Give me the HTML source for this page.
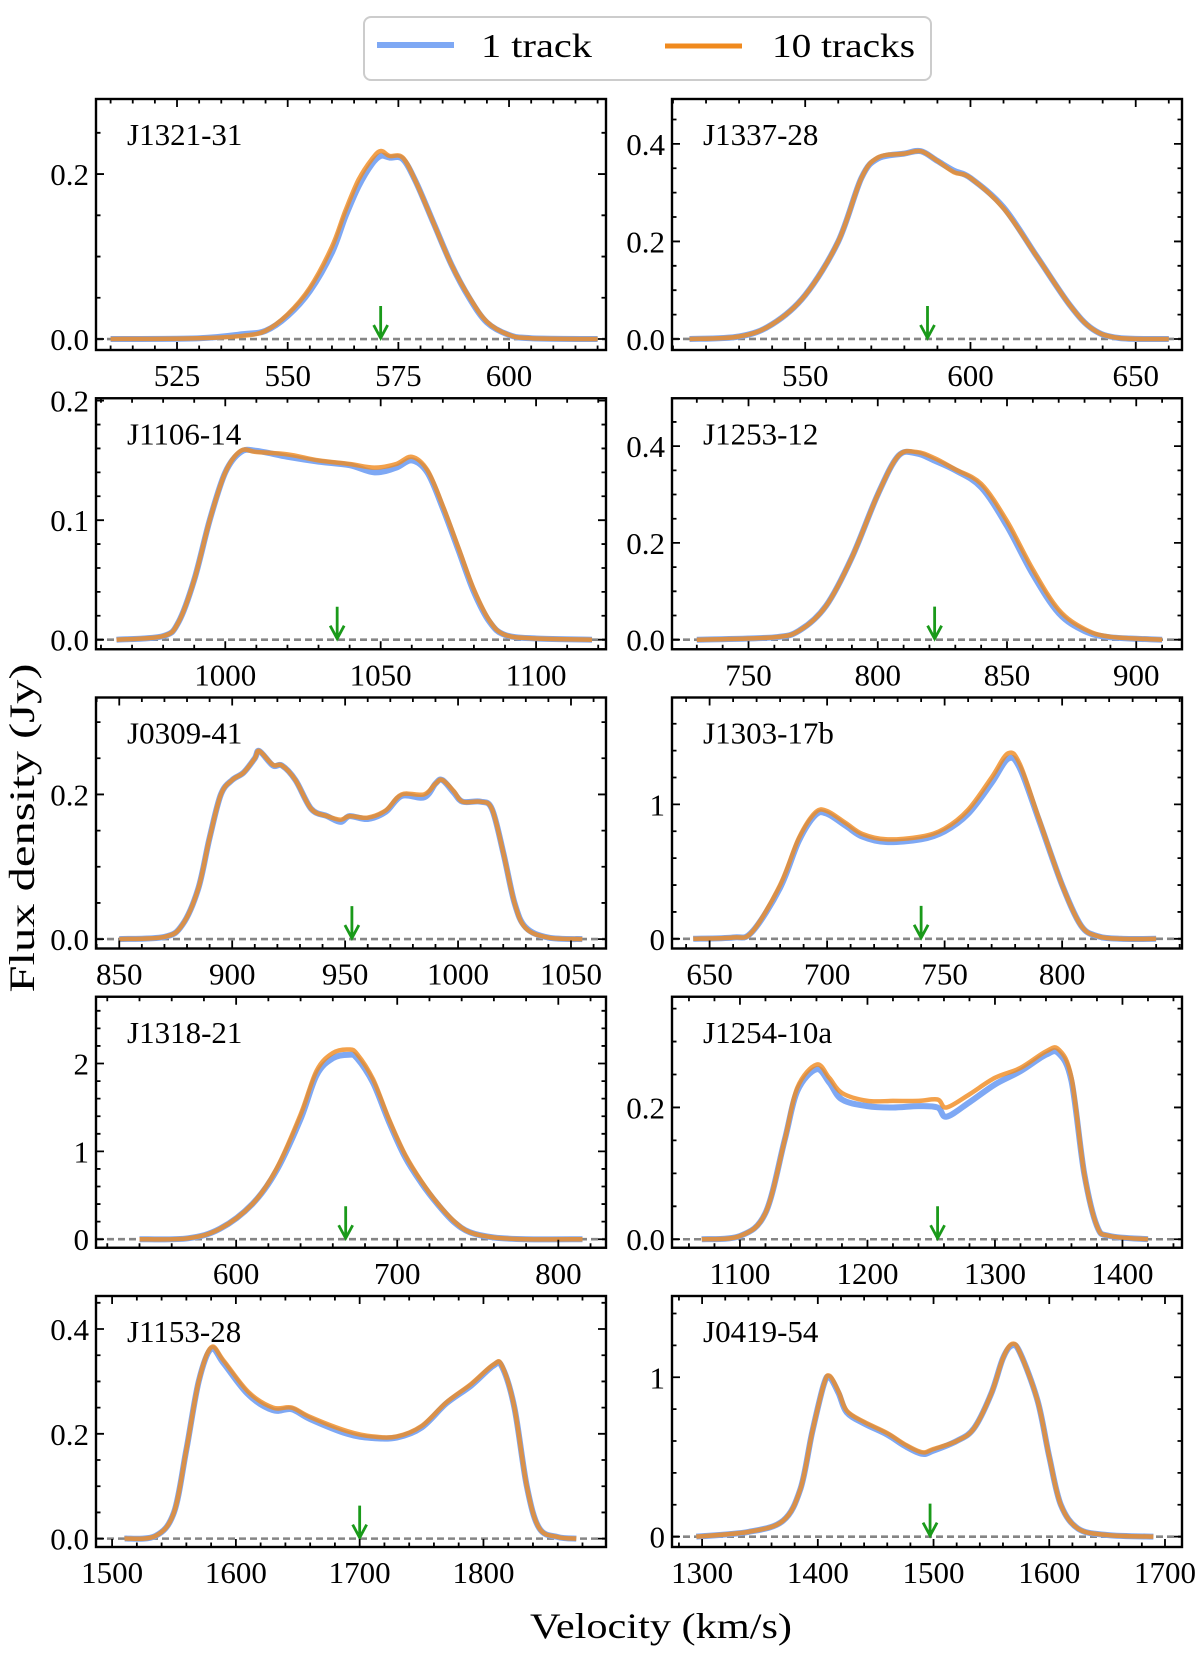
<!DOCTYPE html>
<html><head><meta charset="utf-8">
<style>
html,body{margin:0;padding:0;background:#fff;}
svg{display:block;}
text{font-family:"Liberation Serif",serif;fill:#000;}
</style></head>
<body>
<svg id="fig" width="1200" height="1656" viewBox="0 0 1200 1656" xmlns="http://www.w3.org/2000/svg">
  <g>
    <rect x="364" y="17" width="567" height="63" rx="7" fill="#fff" stroke="#cccccc" stroke-width="2"/>
    <line x1="377" y1="45" x2="454" y2="45" stroke="#7ea8f4" stroke-width="6"/>
    <text x="481" y="57" font-size="34" textLength="111" lengthAdjust="spacingAndGlyphs">1 track</text>
    <line x1="665" y1="46" x2="742" y2="46" stroke="#f08a1e" stroke-width="5"/>
    <text x="772" y="57" font-size="34" textLength="143" lengthAdjust="spacingAndGlyphs">10 tracks</text>
  </g>
  <text transform="translate(34,828) rotate(-90)" text-anchor="middle" font-size="36" textLength="329" lengthAdjust="spacingAndGlyphs">Flux density (Jy)</text>
  <text x="661" y="1638" text-anchor="middle" font-size="36" textLength="262" lengthAdjust="spacingAndGlyphs">Velocity (km/s)</text>
  <g id="panels"></g>
</svg>
<script>
// ---- Data (velocity km/s, flux Jy) ----
const v_J1321 = [510,530,540,545,550,555,560,563,566,569,571,573,576,579,583,587,591,595,600,605,620];
const f1_J1321 = [0,0.001,0.006,0.01,0.028,0.058,0.105,0.148,0.185,0.212,0.222,0.22,0.218,0.19,0.14,0.09,0.05,0.02,0.005,0.001,0];
const f10_J1321 = [0,0.001,0.004,0.01,0.03,0.062,0.112,0.155,0.193,0.218,0.228,0.222,0.22,0.19,0.14,0.09,0.051,0.021,0.005,0.001,0];
const a_J1321 = 571;

const v_J1337 = [515,530,540,550,560,567,572,580,585,590,595,600,610,620,630,637,645,660];
const f1_J1337 = [0,0.005,0.03,0.09,0.2,0.33,0.37,0.38,0.385,0.365,0.345,0.33,0.27,0.17,0.07,0.02,0.002,0];
const f10_J1337 = [0,0.005,0.03,0.09,0.2,0.33,0.372,0.38,0.385,0.365,0.342,0.33,0.268,0.17,0.07,0.02,0.002,0];
const a_J1337 = 587;

const v_J1106 = [965,980,985,990,995,1000,1005,1010,1020,1030,1040,1048,1055,1060,1065,1070,1075,1080,1085,1090,1100,1118];
const f1_J1106 = [0,0.003,0.015,0.05,0.1,0.14,0.157,0.158,0.153,0.149,0.146,0.14,0.144,0.15,0.14,0.11,0.075,0.04,0.015,0.004,0.001,0];
const f10_J1106 = [0,0.003,0.015,0.05,0.1,0.14,0.158,0.157,0.155,0.15,0.147,0.144,0.147,0.153,0.142,0.112,0.077,0.042,0.016,0.004,0.001,0];
const a_J1106 = 1036;

const v_J1253 = [730,760,770,780,790,800,808,815,822,830,840,850,860,870,880,890,910];
const f1_J1253 = [0,0.005,0.02,0.07,0.17,0.3,0.38,0.385,0.37,0.35,0.315,0.235,0.135,0.055,0.018,0.005,0];
const f10_J1253 = [0,0.005,0.02,0.07,0.17,0.3,0.38,0.388,0.375,0.352,0.322,0.245,0.145,0.062,0.022,0.006,0];
const a_J1253 = 822;

const v_J0309 = [850,870,878,885,890,895,900,905,910,912,918,922,928,935,942,948,952,960,968,975,985,990,993,998,1002,1010,1015,1020,1025,1030,1040,1055];
const f1_J0309 = [0,0.003,0.02,0.07,0.14,0.2,0.22,0.23,0.25,0.26,0.24,0.24,0.22,0.18,0.17,0.162,0.17,0.166,0.176,0.198,0.196,0.215,0.22,0.203,0.19,0.19,0.18,0.12,0.05,0.016,0.002,0];
const f10_J0309 = [0,0.003,0.02,0.07,0.14,0.2,0.22,0.23,0.25,0.26,0.241,0.24,0.22,0.18,0.17,0.165,0.17,0.168,0.178,0.2,0.2,0.215,0.22,0.205,0.19,0.19,0.18,0.12,0.05,0.015,0.002,0];
const a_J0309 = 953;

const v_J1303 = [643,660,668,680,688,695,700,708,715,725,740,750,760,770,777,782,790,800,808,815,825,840];
const f1_J1303 = [0,0.01,0.05,0.38,0.73,0.92,0.93,0.84,0.76,0.72,0.74,0.8,0.93,1.16,1.34,1.27,0.89,0.4,0.1,0.02,0,0];
const f10_J1303 = [0,0.01,0.05,0.4,0.75,0.94,0.95,0.86,0.78,0.74,0.76,0.82,0.96,1.2,1.38,1.3,0.9,0.4,0.1,0.02,0,0];
const a_J1303 = 740;

const v_J1318 = [540,570,590,610,625,640,650,660,670,675,685,695,705,715,725,735,745,760,780,815];
const f1_J1318 = [0,0.01,0.12,0.4,0.78,1.37,1.87,2.06,2.1,2.06,1.78,1.33,0.93,0.64,0.4,0.2,0.08,0.02,0,0];
const f10_J1318 = [0,0.01,0.12,0.4,0.8,1.42,1.92,2.12,2.16,2.11,1.82,1.36,0.96,0.66,0.41,0.21,0.08,0.02,0,0];
const a_J1318 = 668;

const v_J1254 = [1070,1100,1120,1135,1145,1160,1170,1180,1200,1220,1240,1255,1262,1280,1300,1320,1340,1350,1360,1370,1380,1390,1420];
const f1_J1254 = [0,0.005,0.04,0.15,0.225,0.258,0.238,0.212,0.202,0.2,0.202,0.2,0.186,0.208,0.235,0.255,0.28,0.282,0.24,0.1,0.02,0.005,0];
const f10_J1254 = [0,0.005,0.04,0.15,0.23,0.265,0.245,0.222,0.21,0.21,0.21,0.212,0.2,0.22,0.245,0.26,0.285,0.288,0.245,0.1,0.02,0.005,0];
const a_J1254 = 1255;

const v_J1153 = [1510,1535,1550,1560,1570,1580,1590,1610,1630,1645,1660,1690,1710,1730,1750,1770,1790,1808,1815,1825,1835,1845,1860,1875];
const f1_J1153 = [0,0.005,0.05,0.17,0.3,0.362,0.335,0.275,0.245,0.247,0.228,0.2,0.192,0.193,0.212,0.258,0.292,0.33,0.328,0.25,0.1,0.02,0.003,0];
const f10_J1153 = [0,0.005,0.05,0.17,0.3,0.365,0.34,0.28,0.25,0.25,0.232,0.205,0.195,0.195,0.215,0.26,0.295,0.332,0.33,0.25,0.1,0.02,0.003,0];
const a_J1153 = 1700;

const v_J0419 = [1295,1340,1370,1385,1395,1405,1410,1418,1425,1440,1460,1475,1490,1500,1520,1535,1550,1560,1568,1575,1590,1600,1610,1625,1650,1690];
const f1_J0419 = [0,0.03,0.1,0.3,0.65,0.95,1.0,0.9,0.78,0.71,0.64,0.57,0.52,0.54,0.6,0.68,0.9,1.12,1.2,1.15,0.85,0.5,0.2,0.05,0.01,0];
const f10_J0419 = [0,0.03,0.1,0.3,0.65,0.95,1.01,0.91,0.79,0.72,0.65,0.58,0.53,0.55,0.6,0.68,0.9,1.12,1.21,1.15,0.85,0.5,0.2,0.05,0.01,0];
const a_J0419 = 1497;

// ---- Axis tick definitions ----
const xt_J1321=[525,550,575,600], yt_J1321=[0,0.2];
const xt_J1337=[550,600,650], yt_J1337=[0,0.2,0.4];
const xt_J1106=[1000,1050,1100], yt_J1106=[0,0.1,0.2];
const xt_J1253=[750,800,850,900], yt_J1253=[0,0.2,0.4];
const xt_J0309=[850,900,950,1000,1050], yt_J0309=[0,0.2];
const xt_J1303=[650,700,750,800], yt_J1303=[0,1];
const xt_J1318=[600,700,800], yt_J1318=[0,1,2];
const xt_J1254=[1100,1200,1300,1400], yt_J1254=[0,0.2];
const xt_J1153=[1500,1600,1700,1800], yt_J1153=[0,0.2,0.4];
const xt_J0419=[1300,1400,1500,1600,1700], yt_J0419=[0,1];

const panels = [
 {id:'j1321-31',name:'J1321-31',v:v_J1321,f1:f1_J1321,f10:f10_J1321,a:a_J1321,xt:xt_J1321,yt:yt_J1321,xr:[506.7,621.9],yr:[-0.0133,0.291],xm:5,ym:0.05,dec:1,col:0,row:0},
 {id:'j1337-28',name:'J1337-28',v:v_J1337,f1:f1_J1337,f10:f10_J1337,a:a_J1337,xt:xt_J1337,yt:yt_J1337,xr:[509.7,664],yr:[-0.0226,0.492],xm:10,ym:0.05,dec:1,col:1,row:0},
 {id:'j1106-14',name:'J1106-14',v:v_J1106,f1:f1_J1106,f10:f10_J1106,a:a_J1106,xt:xt_J1106,yt:yt_J1106,xr:[958.4,1122.5],yr:[-0.008,0.202],xm:10,ym:0.02,dec:1,col:0,row:1},
 {id:'j1253-12',name:'J1253-12',v:v_J1253,f1:f1_J1253,f10:f10_J1253,a:a_J1253,xt:xt_J1253,yt:yt_J1253,xr:[720.4,917.7],yr:[-0.0198,0.499],xm:10,ym:0.05,dec:1,col:1,row:1},
 {id:'j0309-41',name:'J0309-41',v:v_J0309,f1:f1_J0309,f10:f10_J0309,a:a_J0309,xt:xt_J0309,yt:yt_J0309,xr:[839.7,1065.5],yr:[-0.013,0.334],xm:10,ym:0.05,dec:1,col:0,row:2},
 {id:'j1303-17b',name:'J1303-17b',v:v_J1303,f1:f1_J1303,f10:f10_J1303,a:a_J1303,xt:xt_J1303,yt:yt_J1303,xr:[634,851],yr:[-0.072,1.795],xm:10,ym:0.2,dec:0,col:1,row:2},
 {id:'j1318-21',name:'J1318-21',v:v_J1318,f1:f1_J1318,f10:f10_J1318,a:a_J1318,xt:xt_J1318,yt:yt_J1318,xr:[513,829.6],yr:[-0.097,2.76],xm:20,ym:0.2,dec:0,col:0,row:3},
 {id:'j1254-10a',name:'J1254-10a',v:v_J1254,f1:f1_J1254,f10:f10_J1254,a:a_J1254,xt:xt_J1254,yt:yt_J1254,xr:[1046.7,1446.7],yr:[-0.0129,0.368],xm:20,ym:0.05,dec:1,col:1,row:3},
 {id:'j1153-28',name:'J1153-28',v:v_J1153,f1:f1_J1153,f10:f10_J1153,a:a_J1153,xt:xt_J1153,yt:yt_J1153,xr:[1487,1899],yr:[-0.016,0.463],xm:20,ym:0.05,dec:1,col:0,row:4},
 {id:'j0419-54',name:'J0419-54',v:v_J0419,f1:f1_J0419,f10:f10_J0419,a:a_J0419,xt:xt_J0419,yt:yt_J0419,xr:[1274,1714.7],yr:[-0.065,1.51],xm:20,ym:0.2,dec:0,col:1,row:4}
];

const NS='http://www.w3.org/2000/svg';
const root=document.getElementById('panels');
const colX=[96,672], W=510, H=251, rowY0=99, rowPitch=299.25;
function mk(tag,attrs,parent){const e=document.createElementNS(NS,tag);for(const k in attrs)e.setAttribute(k,attrs[k]);parent.appendChild(e);return e;}
function smooth(pts){
  let d='M'+pts[0][0].toFixed(1)+','+pts[0][1].toFixed(1);
  for(let i=0;i<pts.length-1;i++){
    const p0=pts[i-1]||pts[i], p1=pts[i], p2=pts[i+1], p3=pts[i+2]||p2;
    const c1x=p1[0]+(p2[0]-p0[0])/6, c1y=p1[1]+(p2[1]-p0[1])/6;
    const c2x=p2[0]-(p3[0]-p1[0])/6, c2y=p2[1]-(p3[1]-p1[1])/6;
    d+=`C${c1x.toFixed(1)},${c1y.toFixed(1)} ${c2x.toFixed(1)},${c2y.toFixed(1)} ${p2[0].toFixed(1)},${p2[1].toFixed(1)}`;
  }
  return d;
}

panels.forEach(p=>{
  const L=colX[p.col], T=rowY0+p.row*rowPitch, R=L+W, B=T+H;
  const sx=v=>L+(v-p.xr[0])/(p.xr[1]-p.xr[0])*W;
  const sy=f=>B-(f-p.yr[0])/(p.yr[1]-p.yr[0])*H;
  const g=mk('g',{},root);
  
  
  const cp=mk('clipPath',{id:'clip-'+p.id},g); mk('rect',{x:L,y:T,width:W,height:H},cp);
  const z=mk('line',{x1:L,x2:R,y1:sy(0),y2:sy(0),stroke:'#858585','stroke-width':2.6,'stroke-dasharray':'7,4'},g);
  
  
  const path=arr=>smooth(p.v.map((v,i)=>[sx(v),sy(arr[i])]));
  const b=mk('path',{d:path(p.f1),fill:'none',stroke:'#7ea8f4','stroke-width':6,'stroke-linejoin':'round','clip-path':'url(#clip-'+p.id+')'},g);
  
  
  const o=mk('path',{d:path(p.f10),fill:'none',stroke:'#f08a1e','stroke-opacity':0.8,'stroke-width':4.5,'stroke-linejoin':'round','clip-path':'url(#clip-'+p.id+')'},g);
  
  
  const ax=sx(p.a), ay=sy(0);
  const ar=mk('path',{d:`M${ax},${ay-33}L${ax},${ay-1}M${ax-7},${ay-14}L${ax},${ay-1}L${ax+7},${ay-14}`,fill:'none',stroke:'#1a9a1a','stroke-width':2.8},g);
  
  
  let d='';
  const xmin0=Math.ceil(p.xr[0]/p.xm)*p.xm;
  for(let v=xmin0;v<=p.xr[1];v+=p.xm){const x=sx(v);const maj=p.xt.some(t=>Math.abs(t-v)<1e-6);const len=maj?8:4.5;d+=`M${x},${B}v${-len}M${x},${T}v${len}`;}
  const ymin0=Math.ceil(p.yr[0]/p.ym-1e-9)*p.ym;
  for(let k=0;;k++){const f=ymin0+k*p.ym;if(f>p.yr[1])break;const y=sy(f);const maj=p.yt.some(t=>Math.abs(t-f)<1e-6);const len=maj?8:4.5;d+=`M${L},${y}h${len}M${R},${y}h${-len}`;}
  const tk=mk('path',{d:d,stroke:'#000','stroke-width':1.8,fill:'none'},g);
  
  
  const fr=mk('rect',{x:L,y:T,width:W,height:H,fill:'none',stroke:'#000','stroke-width':2.4},g);
  
  
  p.xt.forEach(v=>{const t=mk('text',{x:sx(v),y:B+36,'text-anchor':'middle','font-size':31},g);t.textContent=String(v);
    
    });
  p.yt.forEach(f=>{const t=mk('text',{x:L-7,y:sy(f)+11,'text-anchor':'end','font-size':31},g);t.textContent=f.toFixed(p.dec);
    
    });
  const nm=mk('text',{x:L+31,y:T+46,'font-size':31},g);nm.textContent=p.name;
  
  
});
</script>
</body></html>
